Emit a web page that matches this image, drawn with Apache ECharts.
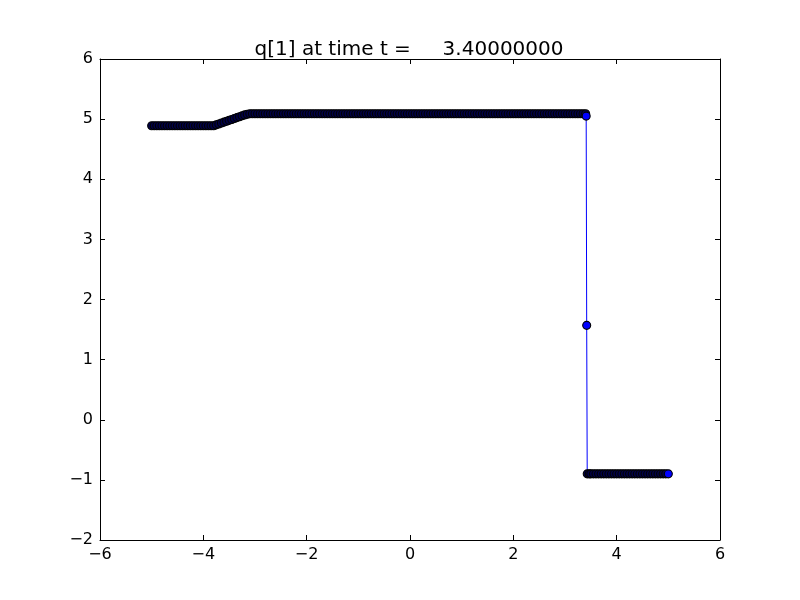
<!DOCTYPE html>
<html>
<head>
<meta charset="utf-8">
<script src="https://cdn.jsdelivr.net/npm/echarts@6/dist/echarts.min.js"></script>
<style>html,body{margin:0;padding:0;background:#fff}#c{width:800px;height:600px}</style>
</head>
<body>
<div id="c"></div>
<script>
const titleText = 'q[1] at time t =     3.40000000';
const xTicks = [-6, -4, -2, 0, 2, 4, 6];
const yTicks = [-2, -1, 0, 1, 2, 3, 4, 5, 6];

const xValues = [
-5.00,-4.95,-4.90,-4.85,-4.80,-4.75,-4.70,-4.65,-4.60,-4.55,
-4.50,-4.45,-4.40,-4.35,-4.30,-4.25,-4.20,-4.15,-4.10,-4.05,
-4.00,-3.95,-3.90,-3.85,-3.80,-3.75,-3.70,-3.65,-3.60,-3.55,
-3.50,-3.45,-3.40,-3.35,-3.30,-3.25,-3.20,-3.15,-3.10,-3.05,
-3.00,-2.95,-2.90,-2.85,-2.80,-2.75,-2.70,-2.65,-2.60,-2.55,
-2.50,-2.45,-2.40,-2.35,-2.30,-2.25,-2.20,-2.15,-2.10,-2.05,
-2.00,-1.95,-1.90,-1.85,-1.80,-1.75,-1.70,-1.65,-1.60,-1.55,
-1.50,-1.45,-1.40,-1.35,-1.30,-1.25,-1.20,-1.15,-1.10,-1.05,
-1.00,-0.95,-0.90,-0.85,-0.80,-0.75,-0.70,-0.65,-0.60,-0.55,
-0.50,-0.45,-0.40,-0.35,-0.30,-0.25,-0.20,-0.15,-0.10,-0.05,
0.00,0.05,0.10,0.15,0.20,0.25,0.30,0.35,0.40,0.45,
0.50,0.55,0.60,0.65,0.70,0.75,0.80,0.85,0.90,0.95,
1.00,1.05,1.10,1.15,1.20,1.25,1.30,1.35,1.40,1.45,
1.50,1.55,1.60,1.65,1.70,1.75,1.80,1.85,1.90,1.95,
2.00,2.05,2.10,2.15,2.20,2.25,2.30,2.35,2.40,2.45,
2.50,2.55,2.60,2.65,2.70,2.75,2.80,2.85,2.90,2.95,
3.00,3.05,3.10,3.15,3.20,3.25,3.30,3.35,3.40,
3.41,3.42,3.43,
3.47,3.50,3.55,3.60,3.65,3.70,3.75,3.80,3.85,3.90,3.95,
4.00,4.05,4.10,4.15,4.20,4.25,4.30,4.35,4.40,4.45,
4.50,4.55,4.60,4.65,4.70,4.75,4.80,4.85,4.90,4.95,
5.00
];

const qValues = [
4.89,4.89,4.89,4.89,4.89,4.89,4.89,4.89,4.89,4.89,
4.89,4.89,4.89,4.89,4.89,4.89,4.89,4.89,4.89,4.89,
4.89,4.89,4.89,4.89,4.89,4.905,4.92,4.935,4.95,4.965,
4.98,4.995,5.01,5.025,5.04,5.055,5.07,5.08,5.09,5.09,
5.09,5.09,5.09,5.09,5.09,5.09,5.09,5.09,5.09,5.09,
5.09,5.09,5.09,5.09,5.09,5.09,5.09,5.09,5.09,5.09,
5.09,5.09,5.09,5.09,5.09,5.09,5.09,5.09,5.09,5.09,
5.09,5.09,5.09,5.09,5.09,5.09,5.09,5.09,5.09,5.09,
5.09,5.09,5.09,5.09,5.09,5.09,5.09,5.09,5.09,5.09,
5.09,5.09,5.09,5.09,5.09,5.09,5.09,5.09,5.09,5.09,
5.09,5.09,5.09,5.09,5.09,5.09,5.09,5.09,5.09,5.09,
5.09,5.09,5.09,5.09,5.09,5.09,5.09,5.09,5.09,5.09,
5.09,5.09,5.09,5.09,5.09,5.09,5.09,5.09,5.09,5.09,
5.09,5.09,5.09,5.09,5.09,5.09,5.09,5.09,5.09,5.09,
5.09,5.09,5.09,5.09,5.09,5.09,5.09,5.09,5.09,5.09,
5.09,5.09,5.09,5.09,5.09,5.09,5.09,5.09,5.09,5.09,
5.09,5.09,5.09,5.09,5.09,5.09,5.09,5.09,5.09,
5.05,1.57,-0.9,
-0.9,-0.9,-0.9,-0.9,-0.9,-0.9,-0.9,-0.9,-0.9,-0.9,-0.9,
-0.9,-0.9,-0.9,-0.9,-0.9,-0.9,-0.9,-0.9,-0.9,-0.9,
-0.9,-0.9,-0.9,-0.9,-0.9,-0.9,-0.9,-0.9,-0.9,-0.9,
-0.9
];

const FONT = 'DejaVu Sans';
const fmt = v => String(v).replace('-', '\u2212');
const points = xValues.map((x, i) => [x, qValues[i]]);

// Dense runs of overlapping markers look dark (their black edges pile up);
// a marker that is not overlapped by the next one shows its blue face.
function markerColor(p) {
  const i = p.dataIndex;
  if (i === points.length - 1) return '#0000ff';
  const dy = Math.abs(qValues[i + 1] - qValues[i]);
  return dy < 0.1 ? '#000048' : '#0000ff';
}

function xAxisDef(pos, show) {
  return {
    type: 'value', position: pos,
    min: xTicks[0], max: xTicks[xTicks.length - 1], interval: xTicks[1] - xTicks[0],
    axisLine: { show: true, onZero: false, lineStyle: { color: '#000', width: 1 } },
    axisTick: { show: true, inside: true, length: 5, lineStyle: { color: '#000' } },
    axisLabel: { show: show, formatter: fmt, color: '#000', fontFamily: FONT, fontSize: 16, margin: 7 },
    splitLine: { show: false }
  };
}
function yAxisDef(pos, show) {
  return {
    type: 'value', position: pos,
    min: yTicks[0], max: yTicks[yTicks.length - 1], interval: yTicks[1] - yTicks[0],
    axisLine: { show: true, onZero: false, lineStyle: { color: '#000', width: 1 } },
    axisTick: { show: true, inside: true, length: 5, lineStyle: { color: '#000' } },
    axisLabel: { show: show, formatter: fmt, color: '#000', fontFamily: FONT, fontSize: 16, margin: 7 },
    splitLine: { show: false }
  };
}

const chart = echarts.init(document.getElementById('c'), null, { renderer: 'canvas' });
chart.setOption({
  animation: false,
  backgroundColor: '#fff',
  title: {
    text: titleText, left: 404, top: 35, textAlign: 'center',
    textStyle: { fontFamily: FONT, fontSize: 20, fontWeight: 'normal', color: '#000' }
  },
  grid: { left: 100, right: 80, top: 59, bottom: 60, containLabel: false },
  xAxis: [xAxisDef('bottom', true), xAxisDef('top', false)],
  yAxis: [yAxisDef('left', true), yAxisDef('right', false)],
  series: [{
    type: 'line',
    xAxisIndex: 0, yAxisIndex: 0,
    data: points,
    showAllSymbol: true,
    symbol: 'circle',
    symbolSize: 8,
    lineStyle: { color: '#0000ff', width: 1 },
    itemStyle: { color: markerColor, borderColor: '#000', borderWidth: 1.1 }
  }]
});
</script>
</body>
</html>
